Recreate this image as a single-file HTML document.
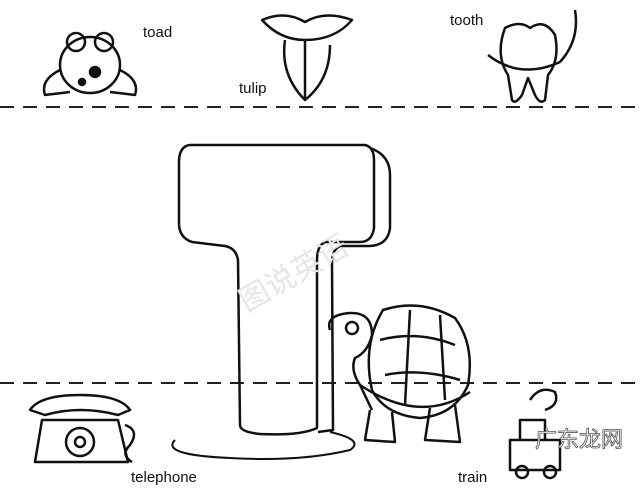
<!DOCTYPE html>
<html><head><meta charset="utf-8"><style>
html,body{margin:0;padding:0;background:#fff;}
svg{display:block}
text{font-family:"Liberation Sans","Noto Sans CJK SC",sans-serif;}
</style></head><body>
<svg width="640" height="495" viewBox="0 0 640 495" xmlns="http://www.w3.org/2000/svg">
<rect width="640" height="495" fill="#fff"/>
<g stroke="#222" stroke-width="2" stroke-dasharray="14,9">
<line x1="0" y1="107" x2="640" y2="107"/>
<line x1="0" y1="383" x2="640" y2="383"/>
</g>
<g fill="none" stroke="#111" stroke-width="2.5" stroke-linejoin="round">
<path d="M175 440 Q160 455 230 458 Q300 462 350 450 Q365 440 330 432" stroke-width="2"/>
<path d="M370 148 Q390 155 390 175 L390 228 Q388 245 370 246 L340 246 Q332 250 332 262 L333 430 L318 432"/>
<path d="M190 145 L365 145 Q374 147 374 160 L374 228 Q372 242 360 242 L325 242 Q317 246 317 260 L317 428 Q300 436 260 434 Q240 432 240 425 L238 260 Q236 248 225 246 L192 242 Q180 238 179 225 L179 160 Q180 146 190 145 Z"/>
<path d="M383 310 Q420 298 455 318 Q475 345 468 385 Q455 415 420 418 Q385 415 372 390 Q362 345 383 310 Z"/>
<path d="M380 340 Q417 330 455 345 M385 375 Q420 368 460 380 M410 310 L405 405 M440 315 L445 400"/>
<path d="M360 385 Q420 425 470 392" />
<path d="M330 330 Q325 315 350 313 Q372 312 372 335 Q368 352 355 358 Q350 370 360 385 L372 410"/>
<circle cx="352" cy="328" r="6"/>
<path d="M370 410 L365 440 L395 442 L392 412 M430 408 L425 440 L460 442 L455 405"/>
<ellipse cx="90" cy="65" rx="30" ry="28"/>
<circle cx="76" cy="42" r="9"/><circle cx="104" cy="42" r="9"/>
<path d="M60 70 Q40 80 45 95 L70 92 M120 70 Q140 80 135 95 L110 92"/>
<circle cx="95" cy="72" r="5" fill="#111"/><circle cx="82" cy="82" r="3" fill="#111"/>
<path d="M262 20 Q285 10 305 22 Q325 10 352 20 Q335 40 305 40 Q280 40 262 20 Z"/>
<path d="M285 40 Q280 75 305 100 Q330 80 330 45"/>
<path d="M305 40 L305 100"/>
<path d="M505 28 Q520 20 530 28 Q545 18 555 35 Q560 60 548 75 L545 100 Q540 105 535 95 L528 78 L522 95 Q515 105 512 100 L508 75 Q495 55 505 28 Z"/>
<path d="M488 55 Q520 80 560 62 M560 62 Q580 40 575 10"/>
<path d="M30 410 Q40 395 80 395 Q120 395 130 410 L118 415 Q80 405 45 415 Z"/>
<path d="M42 420 L118 420 L128 462 L35 462 Z"/>
<circle cx="80" cy="442" r="14"/><circle cx="80" cy="442" r="5"/>
<path d="M125 425 Q140 430 130 445 Q120 455 132 462"/>
<path d="M510 440 L560 440 L560 470 L510 470 Z M520 440 L520 420 L545 420 L545 440"/>
<path d="M530 400 Q540 385 555 392 Q560 405 545 410"/>
<circle cx="522" cy="472" r="6"/><circle cx="550" cy="472" r="6"/>
</g>
<g font-size="15" fill="#111">
<text x="143" y="37">toad</text>
<text x="239" y="93">tulip</text>
<text x="450" y="25">tooth</text>
<text x="131" y="482">telephone</text>
<text x="458" y="482">train</text>
</g>
<text x="230" y="290" font-size="30" fill="#e6e6e6" transform="rotate(-30 280 270)">图说英语</text>
<text x="535" y="447" font-size="22" fill="#fff" stroke="#555" stroke-width="0.8">广东龙网</text>
</svg>
</body></html>
